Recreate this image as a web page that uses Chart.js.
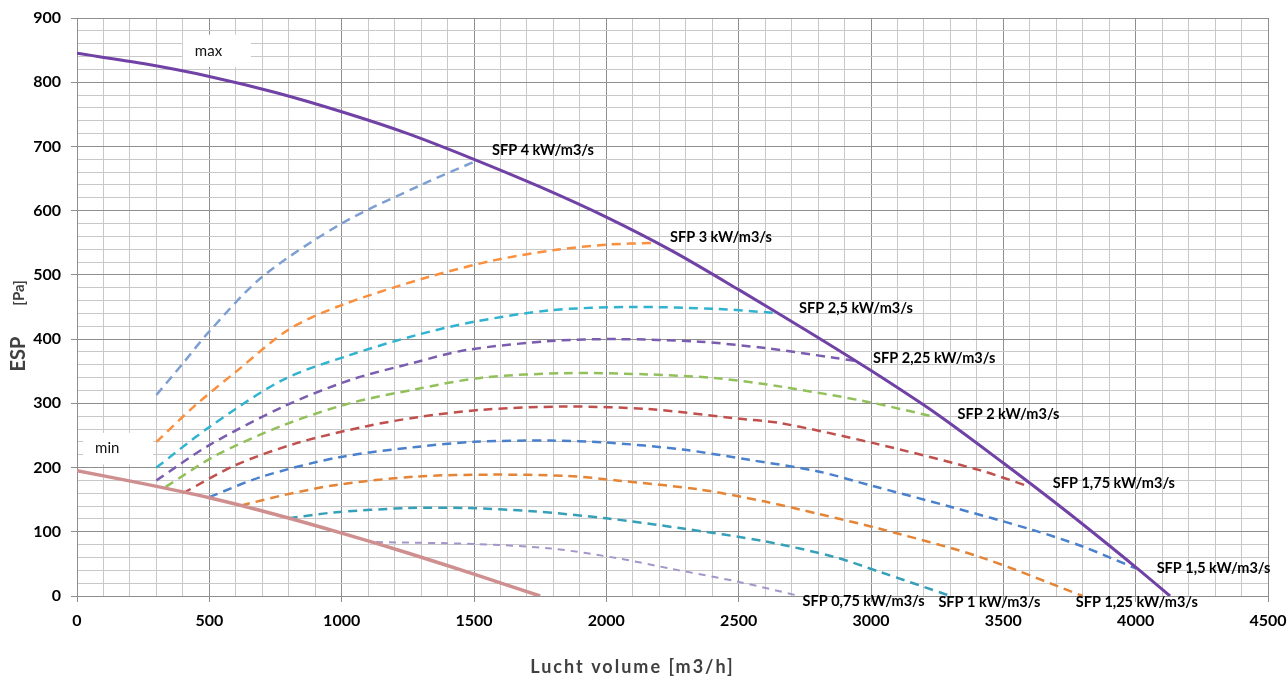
<!DOCTYPE html>
<html>
<head>
<meta charset="utf-8">
<script src="https://cdn.jsdelivr.net/npm/chart.js@4.4.1/dist/chart.umd.min.js"></script>
<style>
  html, body { margin: 0; padding: 0; background: #fff; }
  #wrap { width: 1288px; height: 679px; position: relative; }
</style>
</head>
<body>
<div id="wrap"><canvas id="c"></canvas></div>
<script>
// ---- data ----
const xTickLabels = [0, 500, 1000, 1500, 2000, 2500, 3000, 3500, 4000, 4500];
const yTickLabels = [0, 100, 200, 300, 400, 500, 600, 700, 800, 900];

const maxX = [0, 250, 500, 750, 1000, 1250, 1500, 1750, 2000, 2250, 2500, 2750, 3000, 3250, 3500, 3750, 4000, 4130];
const maxY = [845, 829, 809, 784, 754, 720, 680, 637, 590, 537, 477, 415, 351, 283, 207, 128, 45, 0];

const minX = [0, 250, 500, 750, 1000, 1250, 1500, 1750];
const minY = [195, 175, 153, 127, 98, 67, 34, 0];

const sfp4X = [300, 400, 500, 700, 1000, 1300, 1500];
const sfp4Y = [313, 362, 412, 497, 580, 640, 676];

const sfp3X = [300, 450, 600, 800, 1000, 1330, 1580, 1810, 2000, 2180];
const sfp3Y = [240, 298, 349, 415, 453, 497, 523, 539, 547, 550];

const sfp25X = [300, 500, 780, 1030, 1280, 1500, 1790, 2100, 2420, 2630];
const sfp25Y = [200, 263, 337, 375, 406, 427, 445, 450, 447, 441];

const sfp225X = [300, 500, 780, 1030, 1280, 1470, 1790, 2040, 2350, 2600, 2860, 2940];
const sfp225Y = [180, 235, 295, 336, 364, 383, 397, 400, 396, 386, 371, 366];

const sfp2X = [335, 530, 780, 1030, 1280, 1530, 1850, 2160, 2420, 2660, 2980, 3240];
const sfp2Y = [170, 220, 266, 300, 322, 340, 347, 345, 339, 326, 303, 279];

const sfp175X = [400, 600, 830, 1090, 1280, 1530, 1850, 2160, 2480, 2660, 3010, 3410, 3600];
const sfp175Y = [160, 204, 238, 264, 278, 290, 295, 291, 277, 269, 238, 196, 170];

const sfp15X = [500, 700, 990, 1280, 1500, 1790, 2000, 2290, 2540, 2800, 3000, 3300, 3610, 3800, 4000];
const sfp15Y = [154, 186, 216, 232, 240, 242, 239, 228, 212, 194, 172, 139, 103, 77, 43];

const sfp125X = [620, 780, 980, 1280, 1570, 1850, 2040, 2350, 2600, 2800, 3030, 3410, 3800];
const sfp125Y = [141, 157, 173, 186, 189, 187, 180, 166, 147, 128, 105, 61, 0];

const sfp1X = [800, 970, 1250, 1470, 1720, 2000, 2290, 2600, 2860, 3030, 3300];
const sfp1Y = [121, 130, 137, 137, 132, 121, 105, 85, 61, 38, 0];

const sfp075X = [1130, 1500, 1790, 2040, 2250, 2500, 2730];
const sfp075Y = [84, 81, 74, 59, 42, 22, 0];

const seriesNames = ['max', 'min', 'SFP 4 kW/m3/s', 'SFP 3 kW/m3/s', 'SFP 2,5 kW/m3/s', 'SFP 2,25 kW/m3/s',
  'SFP 2 kW/m3/s', 'SFP 1,75 kW/m3/s', 'SFP 1,5 kW/m3/s', 'SFP 1,25 kW/m3/s', 'SFP 1 kW/m3/s', 'SFP 0,75 kW/m3/s'];

// ---- styles ----
const seriesStyle = [
  { x: maxX, y: maxY, color: '#7142A5', width: 3, dash: [] },
  { x: minX, y: minY, color: '#CF8F8F', width: 3.5, dash: [] },
  { x: sfp4X, y: sfp4Y, color: '#7E9FD2', width: 2.5, dash: [9, 6] },
  { x: sfp3X, y: sfp3Y, color: '#FA8F3E', width: 2.5, dash: [9, 6] },
  { x: sfp25X, y: sfp25Y, color: '#31B3D0', width: 2.5, dash: [9, 6] },
  { x: sfp225X, y: sfp225Y, color: '#7B5DB0', width: 2.5, dash: [9, 6] },
  { x: sfp2X, y: sfp2Y, color: '#92C05A', width: 2.5, dash: [9, 6] },
  { x: sfp175X, y: sfp175Y, color: '#C0504D', width: 2.5, dash: [9, 6] },
  { x: sfp15X, y: sfp15Y, color: '#4A80CC', width: 2.5, dash: [9, 6] },
  { x: sfp125X, y: sfp125Y, color: '#E48436', width: 2.5, dash: [9, 6] },
  { x: sfp1X, y: sfp1Y, color: '#36A0B8', width: 2.5, dash: [9, 6] },
  { x: sfp075X, y: sfp075Y, color: '#A496C8', width: 2, dash: [7, 6] }
];

// label offsets (pixels) from the end point of each SFP curve
const endLabelOffsets = {
  2: [18, -12], 3: [16, -5], 4: [26, -4], 5: [18, -3], 6: [23, -2],
  7: [23, -3], 8: [21, 0], 9: [-7, 6], 10: [-12, 6], 11: [3, 5]
};

const datasets = seriesStyle.map((s, i) => ({
  label: seriesNames[i],
  data: s.x.map((v, k) => ({ x: v, y: s.y[k] })),
  borderColor: s.color,
  backgroundColor: s.color,
  borderWidth: s.width,
  borderDash: s.dash,
  pointRadius: 0,
  fill: false,
  tension: 0.3,
  borderCapStyle: 'butt'
}));

const MAJOR = '#8E8E8E', MINOR = '#C8C8C8';
const tickFont = { family: 'Lato', weight: 'bold', size: 16 };

const annotPlugin = {
  id: 'annot',
  afterDatasetsDraw(chart) {
    const { ctx, scales: { x, y } } = chart;
    ctx.save();
    // max / min boxes
    const boxes = [
      { text: 'max', x0: 400, x1: 657, y0: 874, y1: 824 },
      { text: 'min', x0: 23, x1: 287, y0: 254, y1: 205 }
    ];
    boxes.forEach(b => {
      const px0 = x.getPixelForValue(b.x0), px1 = x.getPixelForValue(b.x1);
      const py0 = y.getPixelForValue(b.y0), py1 = y.getPixelForValue(b.y1);
      ctx.fillStyle = '#fff';
      ctx.fillRect(px0, py0, px1 - px0, py1 - py0);
      ctx.fillStyle = '#111';
      ctx.font = '15px Lato';
      ctx.textAlign = 'left';
      ctx.textBaseline = 'middle';
      ctx.fillText(b.text, px0 + 12, (py0 + py1) / 2);
    });
    // SFP end labels
    ctx.font = 'bold 14.5px Lato';
    ctx.textAlign = 'left';
    ctx.textBaseline = 'middle';
    ctx.fillStyle = '#000';
    Object.keys(endLabelOffsets).forEach(k => {
      const i = +k;
      const s = seriesStyle[i];
      const last = s.x.length - 1;
      const px = x.getPixelForValue(s.x[last]) + endLabelOffsets[k][0];
      const py = y.getPixelForValue(s.y[last]) + endLabelOffsets[k][1];
      ctx.fillText(seriesNames[i], px, py);
    });
    ctx.restore();
  },
  afterDraw(chart) {
    const { ctx, chartArea } = chart;
    ctx.save();
    ctx.fillStyle = '#404040';
    // x title
    ctx.font = 'bold 18px Lato';
    try { ctx.letterSpacing = '2px'; } catch (e) {}
    ctx.textAlign = 'center';
    ctx.textBaseline = 'middle';
    ctx.fillText('Lucht volume [m3/h]', (chartArea.left + chartArea.right) / 2 - 40, 667);
    try { ctx.letterSpacing = '0px'; } catch (e) {}
    // y title
    const mid = (chartArea.top + chartArea.bottom) / 2;
    ctx.translate(19, 0);
    ctx.rotate(-Math.PI / 2);
    ctx.font = 'bold 20px Lato';
    ctx.fillText('ESP', -(mid + 47), 0);
    ctx.font = 'bold 15px Lato';
    ctx.fillText('[Pa]', -(mid - 14), 0);
    ctx.restore();
  }
};

new Chart(document.getElementById('c'), {
  type: 'line',
  data: { datasets },
  plugins: [annotPlugin],
  options: {
    responsive: true,
    maintainAspectRatio: false,
    animation: false,
    layout: { padding: { top: 18, right: 20, bottom: 0, left: 0 } },
    plugins: { legend: { display: false }, tooltip: { enabled: false } },
    scales: {
      x: {
        type: 'linear',
        min: 0, max: 4500,
        afterFit: s => { s.height = 83; s.paddingLeft = 0; s.paddingRight = 0; },
        ticks: {
          stepSize: 100, autoSkip: false, maxRotation: 0, minRotation: 0,
          padding: 9, color: '#000', font: tickFont,
          callback: v => xTickLabels.includes(v) ? String(v) : ''
        },
        grid: {
          color: c => (c.tick && c.tick.value % 500 === 0) ? MAJOR : MINOR,
          tickColor: c => (c.tick && c.tick.value % 500 === 0) ? MAJOR : 'rgba(0,0,0,0)',
          lineWidth: 1, tickLength: 6
        },
        border: { display: true, color: MAJOR }
      },
      y: {
        type: 'linear',
        min: 0, max: 900,
        afterFit: s => { s.width = 77; s.paddingTop = 0; s.paddingBottom = 0; },
        ticks: {
          stepSize: 20, autoSkip: false,
          padding: 10, color: '#000', font: tickFont,
          callback: v => yTickLabels.includes(Math.round(v)) ? String(Math.round(v)) : ''
        },
        grid: {
          color: c => (c.tick && Math.round(c.tick.value) % 100 === 0) ? MAJOR : MINOR,
          tickColor: c => (c.tick && Math.round(c.tick.value) % 100 === 0) ? MAJOR : 'rgba(0,0,0,0)',
          lineWidth: 1, tickLength: 6
        },
        border: { display: true, color: MAJOR }
      }
    }
  }
});
</script>
</body>
</html>
